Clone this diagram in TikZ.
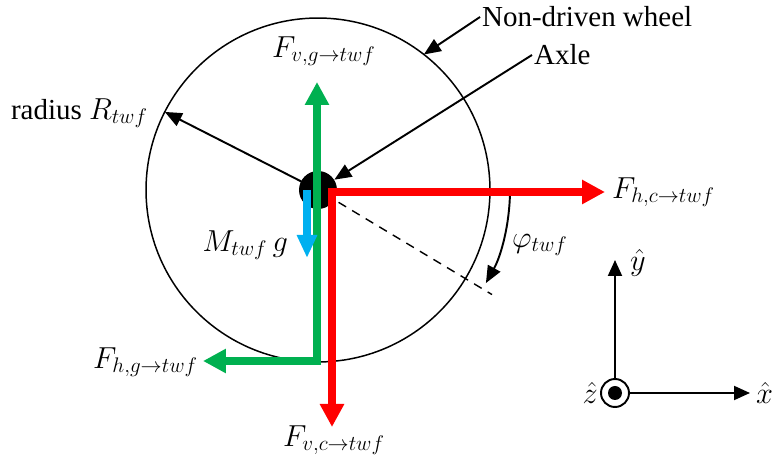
\documentclass[tikz,border=0pt]{standalone}
\usepackage{fontspec}
\setmainfont{Liberation Serif}
\usetikzlibrary{arrows.meta,positioning,calc}
\definecolor{forcegreen}{RGB}{0,176,80}
\definecolor{forcered}{RGB}{255,0,0}
\definecolor{forceblue}{RGB}{0,176,240}

\begin{document}
\begin{tikzpicture}[x=0.02cm, y=0.02cm,
    lbl/.style={font=\fontsize{16.5}{19}\selectfont, inner sep=1pt},
    force/.style={line width=4.4pt, line join=miter,
        {Triangle[length=0.46cm, width=0.46cm]}-{Triangle[length=0.46cm, width=0.46cm]}},
    weight/.style={line width=4.4pt, forceblue, -{Triangle[length=0.46cm, width=0.38cm]}},
    pointer/.style={line width=1.1pt, -{Triangle[length=0.34cm, width=0.28cm]}},
    axisarrow/.style={line width=1.1pt, -{Triangle[length=0.32cm, width=0.28cm]}}]
    \useasboundingbox (0,0) rectangle (772,463);

    % wheel and hub
    \node[circle, draw, line width=0.85pt, minimum size=6.88cm, inner sep=0pt, outer sep=0pt] (wheel) at (318,273) {};
    \node[circle, fill=black, minimum size=0.76cm, inner sep=0pt] (hub) at (318,273) {};
    \node[lbl, anchor=west] (wheellbl) at (480,446) {Non-driven wheel};
    \node[lbl, anchor=west] (axlelbl) at (532,408) {Axle};
    \node[lbl, anchor=east] (radlbl) at (150,350) {radius $R_{twf}$};

    \draw[pointer] (hub.center) -- (wheel.153.5);
    \draw[pointer] (wheellbl.west) -- (wheel.52);
    \draw[pointer] (axlelbl.west) -- (hub);

    % angle
    \coordinate (dashend) at ($(hub.center)+(-31:203)$);
    \draw[dashed, line width=0.8pt, dash pattern=on 5pt off 4pt] ($(hub.center)+(-31:24)$) -- (dashend);
    \draw[pointer] ($(hub.center)+(-1:192)$) arc[start angle=-1, end angle=-29, radius=192];
    \node[lbl, anchor=west] (philbl) at (510,218) {$\varphi_{twf}$};

    % forces
    \coordinate (gtop) at (317,381);
    \coordinate (gcorner) at (317,102);
    \coordinate (gleft) at (203,102);
    \draw[force, forcegreen] (gtop) -- (gcorner) -- (gleft);
    \coordinate (rright) at (605,271);
    \coordinate (rcorner) at (332,271);
    \coordinate (rdown) at (332,36);
    \draw[force, forcered] (rright) -- (rcorner) -- (rdown);
    \coordinate (wtop) at (307,273);
    \coordinate (wtip) at (307,205);
    \draw[weight] (wtop) -- (wtip);

    \node[lbl] (fvg) at (324,412) {$F_{v,g\to twf}$};
    \node[lbl, anchor=west] (fhc) at (610,271) {$F_{h,c\to twf}$};
    \node[lbl, anchor=east] (fhg) at (200,101) {$F_{h,g\to twf}$};
    \node[lbl] (fvc) at (334,23) {$F_{v,c\to twf}$};
    \node[lbl, anchor=east] (mg) at (290,218) {$M_{twf}\,g$};

    % coordinate system
    \node[circle, draw, line width=1.1pt, minimum size=0.56cm, inner sep=0pt] (origin) at (615,70) {};
    \node[circle, fill=black, minimum size=0.28cm, inner sep=0pt] (odot) at (origin) {};
    \coordinate (ytip) at (615,203);
    \coordinate (xtip) at (750,70);
    \draw[axisarrow] (origin.north) -- (ytip);
    \draw[axisarrow] (origin.east) -- (xtip);
    \node[lbl, anchor=west] (ylbl) at (628,200) {$\hat{y}$};
    \node[lbl, anchor=west] (xlbl) at (754,70) {$\hat{x}$};
    \node[lbl, anchor=east] (zlbl) at (600,70) {$\hat{z}$};
\end{tikzpicture}
\end{document}
